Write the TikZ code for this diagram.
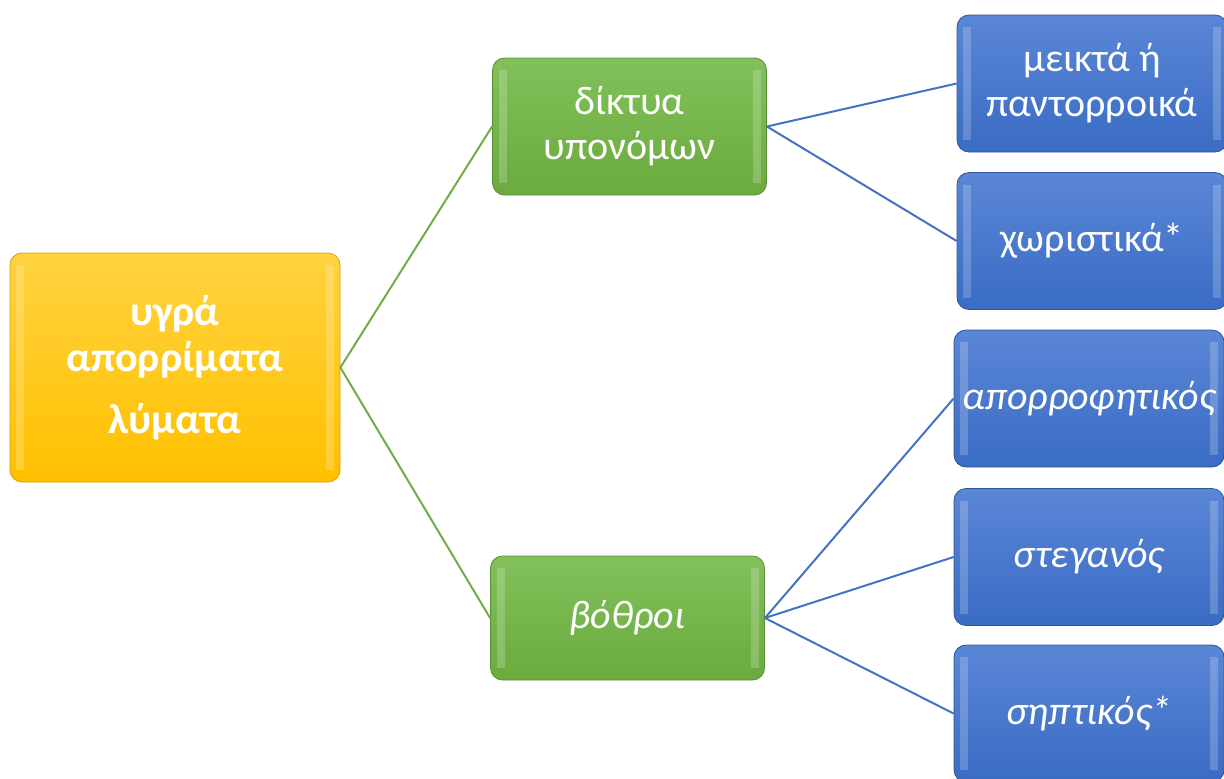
\documentclass[tikz,border=0pt]{standalone}
\usepackage{fontspec}
\setmainfont{Carlito}
\usepackage{tikz}
\usepackage{xcolor}
\definecolor{goldtop}{HTML}{FFD23F}
\definecolor{goldbot}{HTML}{FFC000}
\definecolor{goldline}{HTML}{D9A300}
\definecolor{leaftop}{HTML}{82C15A}
\definecolor{leafbot}{HTML}{6BAA3E}
\definecolor{leafline}{HTML}{5A8F35}
\definecolor{seatop}{HTML}{5A86D6}
\definecolor{seabot}{HTML}{3A6CC4}
\definecolor{sealine}{HTML}{2F5597}
\definecolor{greenlink}{HTML}{70AD47}
\definecolor{bluelink}{HTML}{4472C4}

\begin{document}
\begin{tikzpicture}[x=0.5pt,y=-0.5pt,
                    box/.style={rounded corners=6pt,align=center,text=white,inner sep=1pt,
                                font=\fontsize{20}{22.5}\selectfont,
                                path picture={
                                    \fill[white,opacity=0.2,sharp corners] ([xshift=3pt,yshift=-6pt]path picture bounding box.north west)
                                        rectangle ([xshift=7pt,yshift=6pt]path picture bounding box.south west);
                                    \fill[white,opacity=0.2,sharp corners] ([xshift=-3pt,yshift=-6pt]path picture bounding box.north east)
                                        rectangle ([xshift=-7pt,yshift=6pt]path picture bounding box.south east);}},
                    rootbox/.style={box,top color=goldtop,bottom color=goldbot,draw=goldline,
                                    minimum width=165pt,minimum height=114.5pt,
                                    font=\fontsize{21}{23}\selectfont\bfseries},
                    midbox/.style={box,top color=leaftop,bottom color=leafbot,draw=leafline,
                                   minimum width=137pt,minimum height=66pt},
                    leafbox/.style={box,top color=seatop,bottom color=seabot,draw=sealine,
                                    minimum width=135pt,minimum height=68.5pt},
                    glink/.style={draw=greenlink,line width=1pt},
                    blink/.style={draw=bluelink,line width=1pt}]
                    \useasboundingbox (0,0) rectangle (1224,778);
                    \node[rootbox] (waste) at (175,367.5) {υγρά\\απορρίματα\\[8pt]λύματα};
                    \node[midbox,minimum height=68.5pt] (sewer) at (629.5,126.5) {δίκτυα\\υπονόμων};
                    \node[midbox,minimum height=62pt] (pit) at (627.5,618) {\itshape βόθροι};
                    \node[leafbox] (mixed) at (1092,83.5) {μεικτά ή\\παντορροικά};
                    \node[leafbox] (separate) at (1092,241) {χωριστικά*};
                    \node[leafbox] (absorb) at (1089,398.5) {\itshape απορροφητικός};
                    \node[leafbox] (sealed) at (1089,557) {\itshape στεγανός};
                    \node[leafbox] (septic) at (1089,713.5) {\itshape σηπτικός*};
                    \draw[glink] (waste.east) -- (sewer.west);
                    \draw[glink] (waste.east) -- (pit.west);
                    \draw[blink] (sewer.east) -- (mixed.west);
                    \draw[blink] (sewer.east) -- (separate.west);
                    \draw[blink] (pit.east) -- (absorb.west);
                    \draw[blink] (pit.east) -- (sealed.west);
                    \draw[blink] (pit.east) -- (septic.west);
\end{tikzpicture}
\end{document}
